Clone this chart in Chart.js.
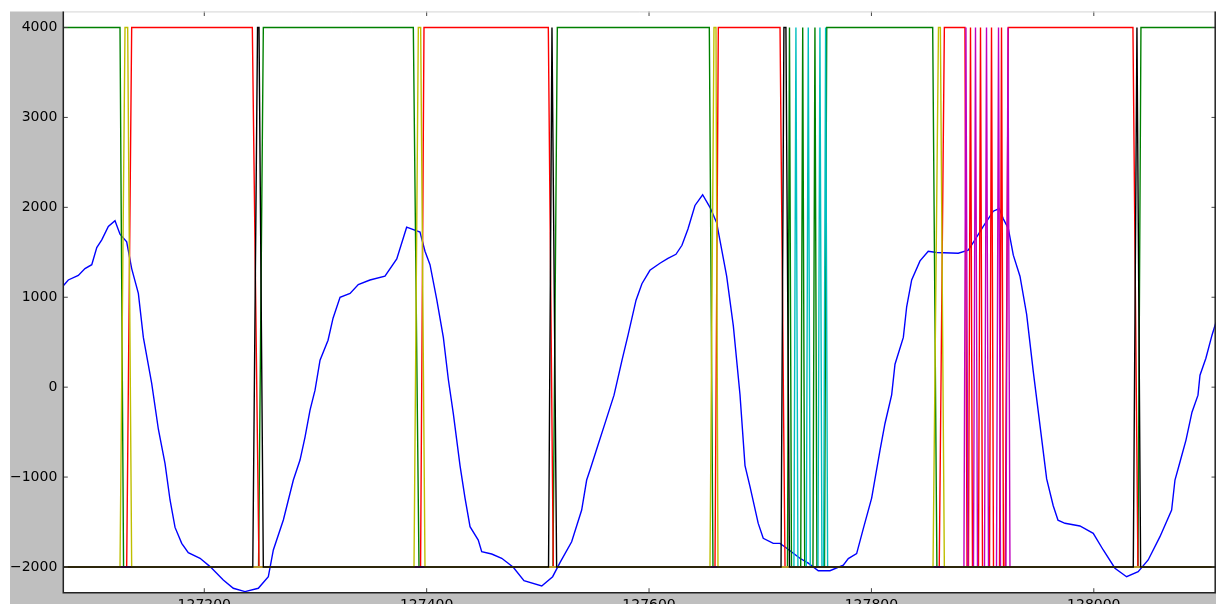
<!DOCTYPE html>
<html>
<head>
<meta charset="utf-8">
<script src="https://cdn.jsdelivr.net/npm/chart.js@4.4.0/dist/chart.umd.min.js"></script>
<style>
  html, body { margin: 0; padding: 0; background: #fff; overflow: hidden; }
  #wrap { width: 1216px; height: 604px; overflow: hidden; }
</style>
</head>
<body>
<div id="wrap"><canvas id="plot" width="1216" height="620"></canvas></div>
<script>
// axis ticks
const xTicks = [127200, 127400, 127600, 127800, 128000];
const xTickLabels = ["127200", "127400", "127600", "127800", "128000"];
const yTicks = [-2000, -1000, 0, 1000, 2000, 3000, 4000];
const yTickLabels = ["\u22122000", "\u22121000", "0", "1000", "2000", "3000", "4000"];

// analog signal (blue)
const blueX = [
  127073.2, 127077.7, 127086.7, 127092.7, 127098.8, 127103.3, 127107.8, 127113.7, 127119.7, 127124.2,
  127130.2, 127134.7, 127140.7, 127145.2, 127152.7, 127158.7, 127164.7, 127169.2, 127173.7, 127179.7,
  127185.6, 127196.2, 127205.2, 127217.1, 127226.1, 127236.6, 127248.6, 127257.6, 127262.1, 127271.1,
  127280.1, 127286.1, 127290.6, 127295.1, 127299.6, 127304.1, 127311.3, 127315.8, 127322.1, 127331.1,
  127338.5, 127349.0, 127362.5, 127373.1, 127382.0, 127394.0, 127398.5, 127403.0, 127409.0, 127415.0,
  127419.5, 127424.0, 127430.0, 127434.5, 127439.0, 127446.4, 127449.5, 127458.5, 127467.5, 127477.9,
  127487.5, 127503.5, 127513.3, 127519.9, 127530.4, 127539.4, 127543.9, 127546.9, 127554.1, 127561.3,
  127568.5, 127575.7, 127581.1, 127588.3, 127593.6, 127600.8, 127609.8, 127617.0, 127624.2, 127629.6,
  127635.0, 127641.3, 127648.2, 127654.8, 127660.8, 127669.8, 127675.8, 127681.8, 127686.3, 127690.8,
  127698.2, 127702.7, 127711.7, 127717.8, 127723.8, 127735.7, 127743.2, 127752.2, 127762.7, 127774.7,
  127779.2, 127786.7, 127792.7, 127800.2, 127807.7, 127812.2, 127818.2, 127821.2, 127828.7, 127831.7,
  127836.2, 127843.7, 127851.1, 127858.7, 127878.1, 127887.1, 127893.1, 127900.6, 127909.6, 127915.0,
  127918.6, 127923.1, 127927.6, 127933.6, 127939.6, 127945.6, 127951.6, 127957.6, 127963.5, 127967.8,
  127974.1, 127987.5, 127999.5, 128008.5, 128019.0, 128029.5, 128039.9, 128048.9, 128059.5, 128070.0,
  128073.0, 128077.5, 128082.9, 128088.3, 128093.7, 128095.5, 128100.8, 128106.3, 128109.9
];
const blueY = [
  1128, 1192, 1243, 1319, 1362, 1553, 1638, 1787, 1851, 1702,
  1617, 1319, 1043, 553, 43, -468, -851, -1255, -1560, -1737,
  -1841, -1903, -1996, -2144, -2237, -2274, -2237, -2108, -1811, -1477,
  -1033, -811, -555, -255, -33, 300, 522, 767, 1000, 1043,
  1141, 1192, 1234, 1426, 1779, 1724, 1511, 1362, 979, 553,
  85, -298, -872, -1234, -1552, -1700, -1830, -1856, -1903, -2003,
  -2152, -2211, -2108, -1952, -1719, -1367, -1033, -922, -644, -367,
  -89, 300, 578, 967, 1150, 1300, 1378, 1433, 1478, 1578,
  1760, 2021, 2140, 2000, 1830, 1234, 681, -85, -872, -1107,
  -1515, -1681, -1737, -1737, -1792, -1903, -1957, -2042, -2042, -1979,
  -1906, -1851, -1574, -1234, -702, -404, -85, 255, 553, 894,
  1192, 1404, 1511, 1498, 1489, 1524, 1638, 1787, 1957, 1987,
  1872, 1766, 1468, 1234, 809, 170, -426, -1021, -1319, -1480,
  -1514, -1544, -1626, -1811, -2014, -2108, -2052, -1922, -1663, -1366,
  -1033, -833, -589, -278, -89, 133, 322, 578, 722
];

// digital channels (vertices)
const greenX = [127073.2, 127124.2, 127127.4, 127248.8, 127253.1, 127388.0, 127393.1, 127513.6, 127517.5,
  127654.2, 127657.5, 127724.5, 127726.3, 127728.1, 127736.4, 127738.2, 127740.0, 127747.4, 127749.2,
  127751.0, 127757.8, 127759.8, 127855.1, 127858.9, 128039.7, 128042.4, 128110];
const greenY = [4000, 4000, -2000, -2000, 4000, 4000, -2000, -2000, 4000,
  4000, -2000, -2000, 4000, -2000, -2000, 4000, -2000, -2000, 4000,
  -2000, -2000, 4000, 4000, -2000, -2000, 4000, 4000];

const redX = [127073.2, 127130.2, 127134.7, 127243.2, 127249.2, 127394.5, 127397.6, 127509.4, 127513.9,
  127659.3, 127662.3, 127717.8, 127722.3, 127861.0, 127865.6, 127884.1, 127886.0, 127887.3, 127889.1,
  127890.9, 127896.3, 127898.1, 127899.9, 127906.2, 127908.0, 127909.8, 127915.2, 127917.0, 127918.8,
  127920.3, 127923.1, 128035.2, 128039.7, 128110];
const redY = [-2000, -2000, 4000, 4000, -2000, -2000, 4000, 4000, -2000,
  -2000, 4000, 4000, -2000, -2000, 4000, 4000, -2000, -2000, 4000,
  -2000, -2000, 4000, -2000, -2000, 4000, -2000, -2000, 4000, -2000,
  -2000, 4000, 4000, -2000, -2000];

const cyanX = [127073.2, 127730.3, 127732.1, 127733.9, 127741.4, 127743.2, 127745.0, 127751.9, 127753.7,
  127755.5, 127757.0, 127758.8, 127760.6, 128110];
const cyanY = [-2000, -2000, 4000, -2000, -2000, 4000, -2000, -2000, 4000,
  -2000, -2000, 4000, -2000, -2000];

const magentaX = [127073.2, 127883.2, 127885.0, 127886.8, 127891.8, 127893.6, 127895.4, 127901.7, 127903.5,
  127905.3, 127912.5, 127914.3, 127916.1, 127921.0, 127922.8, 127924.6, 128110];
const magentaY = [-2000, -2000, 4000, -2000, -2000, 4000, -2000, -2000, 4000,
  -2000, -2000, 4000, -2000, -2000, 4000, -2000, -2000];

const yellowX = [127073.2, 127124.2, 127128.7, 127131.1, 127134.7, 127388.6, 127392.5, 127394.6, 127398.5,
  127654.8, 127658.4, 127660.2, 127662.0, 127855.4, 127860.3, 127862.0, 127865.6, 128110];
const yellowY = [-2000, -2000, 4000, 4000, -2000, -2000, 4000, 4000, -2000,
  -2000, 4000, 4000, -2000, -2000, 4000, 4000, -2000, -2000];

const blackX = [127073.2, 127243.6, 127247.9, 127249.2, 127253.1, 127509.6, 127512.7, 127516.9,
  127718.7, 127721.3, 127723.1, 127726.3, 128035.5, 128038.8, 128042.1, 128110];
const blackY = [-2000, -2000, 4000, 4000, -2000, -2000, 4000, -2000,
  -2000, 4000, 4000, -2000, -2000, 4000, -2000, -2000];

function pts(xs, ys) {
  return xs.map((x, i) => ({ x: x, y: ys[i] }));
}

function series(xs, ys, color, order) {
  return {
    data: pts(xs, ys),
    borderColor: color,
    borderWidth: 1.4,
    pointRadius: 0,
    tension: 0,
    fill: false,
    order: order
  };
}

// gray figure, white axes, spines and inward ticks like the original plot
const frame = {
  id: "frame",
  beforeDraw(chart) {
    const c = chart.ctx, a = chart.chartArea;
    c.save();
    c.fillStyle = "#ffffff";
    c.fillRect(0, 0, chart.width, chart.height);
    c.fillStyle = "#bfbfbf";
    c.fillRect(10, a.top, chart.width - 10, chart.height - a.top);
    c.fillStyle = "#ffffff";
    c.fillRect(a.left, a.top, a.right - a.left, a.bottom - a.top);
    c.restore();
  },
  afterDraw(chart) {
    const c = chart.ctx, a = chart.chartArea;
    const xs = chart.scales.x, ys = chart.scales.y;
    c.save();
    c.lineWidth = 1;
    c.strokeStyle = "#444";
    c.beginPath();
    xTicks.forEach(v => {
      const p = xs.getPixelForValue(v);
      c.moveTo(p, a.bottom); c.lineTo(p, a.bottom - 4.5);
      c.moveTo(p, a.top); c.lineTo(p, a.top + 4.5);
    });
    yTicks.forEach(v => {
      const p = ys.getPixelForValue(v);
      c.moveTo(a.left, p); c.lineTo(a.left + 4.5, p);
      c.moveTo(a.right, p); c.lineTo(a.right - 4.5, p);
    });
    c.stroke();
    c.strokeStyle = "#dcdcdc";
    c.beginPath();
    c.moveTo(a.left, a.top + 0.5); c.lineTo(a.right, a.top + 0.5);
    c.stroke();
    c.strokeStyle = "#222";
    c.lineWidth = 1.5;
    c.beginPath();
    c.moveTo(a.left, a.top); c.lineTo(a.left, a.bottom);
    c.lineTo(a.right - 0.8, a.bottom); c.lineTo(a.right - 0.8, a.top);
    c.stroke();
    c.restore();
  }
};

new Chart(document.getElementById("plot"), {
  type: "line",
  data: {
    datasets: [
      series(blueX, blueY, "#0000ff", 6),
      series(greenX, greenY, "#008000", 5),
      series(redX, redY, "#ff0000", 4),
      series(cyanX, cyanY, "#00bfbf", 3),
      series(magentaX, magentaY, "#bf00bf", 2),
      series(yellowX, yellowY, "#bfbf00", 1),
      series(blackX, blackY, "#000000", 0)
    ]
  },
  options: {
    responsive: false,
    devicePixelRatio: 1,
    animation: false,
    layout: { padding: { top: 11.5, left: 0, right: 0, bottom: 0 } },
    plugins: { legend: { display: false }, tooltip: { enabled: false } },
    scales: {
      x: {
        type: "linear",
        min: 127073.2,
        max: 128109.9,
        grid: { display: false, drawTicks: false },
        border: { display: false },
        afterBuildTicks: (scale) => { scale.ticks = xTicks.map(v => ({ value: v })); },
        afterFit: (scale) => { scale.height = 27.3; scale.paddingLeft = 0; scale.paddingRight = 0; },
        ticks: {
          autoSkip: false,
          maxRotation: 0,
          padding: 4,
          color: "#000",
          font: { family: "DejaVu Sans", size: 14 },
          callback: (v, i) => xTickLabels[i]
        }
      },
      y: {
        min: -2286,
        max: 4178,
        grid: { display: false, drawTicks: false },
        border: { display: false },
        afterBuildTicks: (scale) => { scale.ticks = yTicks.map(v => ({ value: v })); },
        afterFit: (scale) => { scale.width = 63.3; scale.paddingTop = 0; scale.paddingBottom = 0; },
        ticks: {
          padding: 6,
          color: "#000",
          font: { family: "DejaVu Sans", size: 14 },
          callback: (v, i) => yTickLabels[i]
        }
      }
    }
  },
  plugins: [frame]
});
</script>
</body>
</html>
